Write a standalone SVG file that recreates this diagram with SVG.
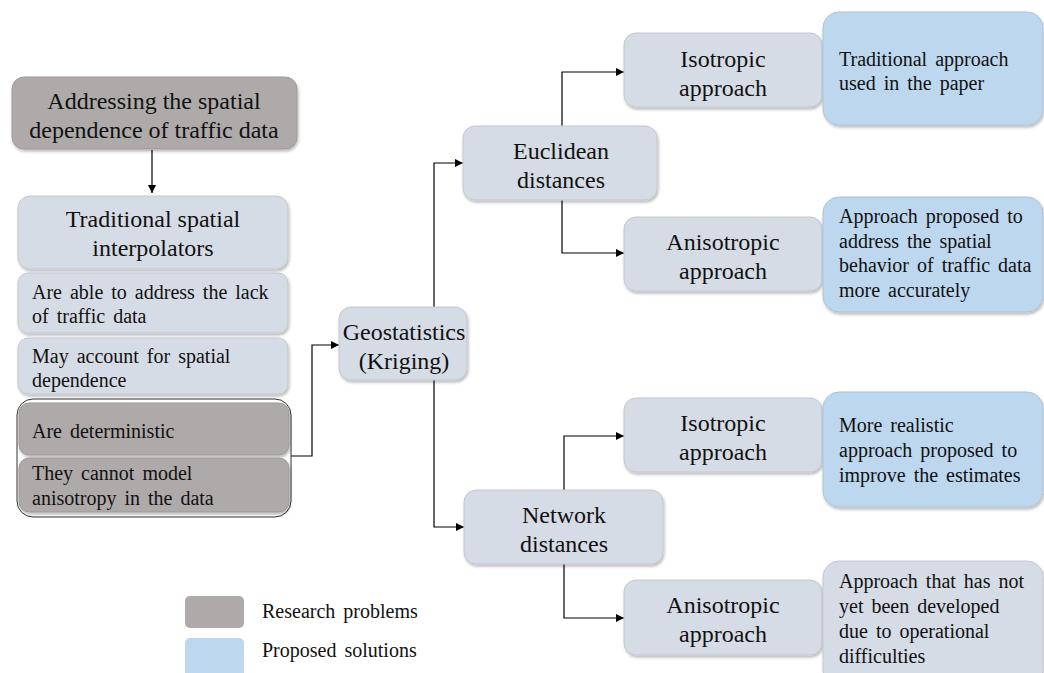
<svg xmlns="http://www.w3.org/2000/svg" width="1044" height="673" viewBox="0 0 1044 673">
<defs>
<filter id="sh" x="-10%" y="-10%" width="120%" height="130%">
<feDropShadow dx="1" dy="2" stdDeviation="1.5" flood-color="#000" flood-opacity="0.28"/>
</filter>
<marker id="arr" viewBox="0 0 10 10" refX="10" refY="5" markerWidth="8" markerHeight="8" markerUnits="userSpaceOnUse" orient="auto">
<path d="M0,0 L10,5 L0,10 z" fill="#000"/>
</marker>
<style>
.light{fill:#d6dce5;stroke:#c3c8d0;stroke-width:1;filter:url(#sh)}
.blue{fill:#bdd7ee;stroke:#aac3da;stroke-width:1;filter:url(#sh)}
.gray{fill:#aeaaaa;stroke:#9d9999;stroke-width:1;filter:url(#sh)}
.t{font-family:"Liberation Serif","Times New Roman",serif;fill:#111}
.h{font-size:24px;text-anchor:middle}
.b{font-size:20px;word-spacing:3px}
.conn{fill:none;stroke:#000;stroke-width:1.2}
</style>
</defs>
<rect width="1044" height="673" fill="#fff"/>

<g id="connectors">
<path class="conn" d="M152,150 V193" marker-end="url(#arr)"/>
<path class="conn" d="M291,456 H312 V345 H339" marker-end="url(#arr)"/>
<path class="conn" d="M434,307 V163 H463" marker-end="url(#arr)"/>
<path class="conn" d="M434,380 V527 H464" marker-end="url(#arr)"/>
<path class="conn" d="M562,126 V72 H624" marker-end="url(#arr)"/>
<path class="conn" d="M562,200 V253 H624" marker-end="url(#arr)"/>
<path class="conn" d="M564,490 V436 H624" marker-end="url(#arr)"/>
<path class="conn" d="M564,564 V618 H624" marker-end="url(#arr)"/>
</g>

<g id="n-addressing">
<rect class="gray" x="12" y="77" width="285" height="72" rx="12"/>
<text class="t h" x="154" y="109">Addressing the spatial</text>
<text class="t h" x="154" y="138">dependence of traffic data</text>
</g>

<g id="n-traditional">
<rect class="light" x="18" y="196" width="270" height="73" rx="12"/>
<text class="t h" x="153" y="227">Traditional spatial</text>
<text class="t h" x="153" y="256">interpolators</text>
</g>

<g id="n-able">
<rect class="light" x="18" y="273" width="270" height="60" rx="10"/>
<text class="t b" x="32" y="299">Are able to address the lack</text>
<text class="t b" x="32" y="323">of traffic data</text>
</g>

<g id="n-may">
<rect class="light" x="18" y="338" width="270" height="56" rx="10"/>
<text class="t b" x="32" y="363">May account for spatial</text>
<text class="t b" x="32" y="387">dependence</text>
</g>

<g id="n-problems-group">
<rect x="17" y="399" width="274" height="118" rx="16" fill="#fff" stroke="#333" stroke-width="1"/>
<rect class="gray" x="19" y="403" width="270" height="52" rx="10"/>
<text class="t b" x="32" y="438">Are deterministic</text>
<rect class="gray" x="19" y="458" width="270" height="54" rx="10"/>
<text class="t b" x="32" y="480">They cannot model</text>
<text class="t b" x="32" y="505">anisotropy in the data</text>
</g>

<g id="n-geostatistics">
<rect class="light" x="339" y="307" width="128" height="73" rx="12"/>
<text class="t h" x="404" y="340">Geostatistics</text>
<text class="t h" x="404" y="369">(Kriging)</text>
</g>

<g id="n-euclidean">
<rect class="light" x="463" y="126" width="194" height="74" rx="12"/>
<text class="t h" x="561" y="159">Euclidean</text>
<text class="t h" x="561" y="188">distances</text>
</g>

<g id="n-network">
<rect class="light" x="464" y="490" width="199" height="74" rx="12"/>
<text class="t h" x="564" y="523">Network</text>
<text class="t h" x="564" y="552">distances</text>
</g>

<g id="n-iso1">
<rect class="light" x="624" y="33" width="198" height="74" rx="12"/>
<text class="t h" x="723" y="67">Isotropic</text>
<text class="t h" x="723" y="96">approach</text>
</g>

<g id="n-aniso1">
<rect class="light" x="624" y="217" width="198" height="74" rx="12"/>
<text class="t h" x="723" y="250">Anisotropic</text>
<text class="t h" x="723" y="279">approach</text>
</g>

<g id="n-iso2">
<rect class="light" x="624" y="398" width="198" height="74" rx="12"/>
<text class="t h" x="723" y="431">Isotropic</text>
<text class="t h" x="723" y="460">approach</text>
</g>

<g id="n-aniso2">
<rect class="light" x="624" y="580" width="198" height="75" rx="12"/>
<text class="t h" x="723" y="613">Anisotropic</text>
<text class="t h" x="723" y="642">approach</text>
</g>

<g id="n-sol1">
<rect class="blue" x="823" y="12" width="220" height="113" rx="16"/>
<text class="t b" x="839" y="66">Traditional approach</text>
<text class="t b" x="839" y="90">used in the paper</text>
</g>

<g id="n-sol2">
<rect class="blue" x="823" y="197" width="220" height="115" rx="16"/>
<text class="t b" x="839" y="223">Approach proposed to</text>
<text class="t b" x="839" y="248">address the spatial</text>
<text class="t b" x="839" y="272">behavior of traffic data</text>
<text class="t b" x="839" y="297">more accurately</text>
</g>

<g id="n-sol3">
<rect class="blue" x="823" y="392" width="220" height="115" rx="16"/>
<text class="t b" x="839" y="432">More realistic</text>
<text class="t b" x="839" y="457">approach proposed to</text>
<text class="t b" x="839" y="482">improve the estimates</text>
</g>

<g id="n-sol4">
<rect class="light" x="823" y="561" width="220" height="125" rx="16"/>
<text class="t b" x="839" y="588">Approach that has not</text>
<text class="t b" x="839" y="613">yet been developed</text>
<text class="t b" x="839" y="638">due to operational</text>
<text class="t b" x="839" y="663">difficulties</text>
</g>

<g id="legend">
<rect x="185" y="596" width="59" height="32" rx="5" fill="#aeaaaa"/>
<rect x="185" y="638" width="59" height="40" rx="5" fill="#bdd7ee"/>
<text class="t b" x="262" y="618">Research problems</text>
<text class="t b" x="262" y="657">Proposed solutions</text>
</g>
</svg>
